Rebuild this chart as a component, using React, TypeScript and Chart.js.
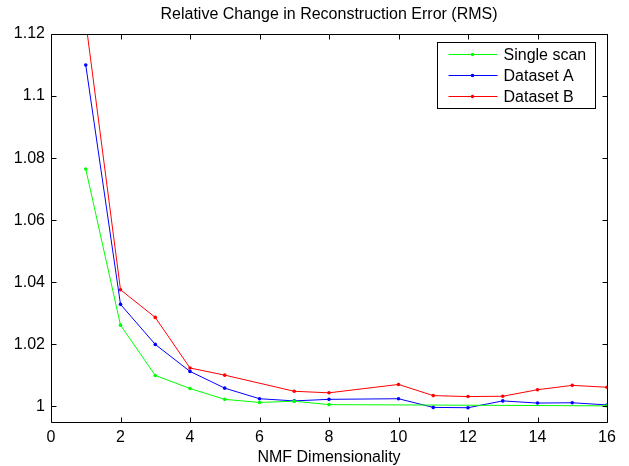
import React, { useEffect, useRef } from "react";
import { Chart, registerables } from "chart.js";

Chart.register(...registerables);

const titleText = "Relative Change in Reconstruction Error (RMS)";
const xLabel = "NMF Dimensionality";

const singleX = [1, 2, 3, 4, 5, 6, 7, 8, 16];
const singleY = [1.0765, 1.0262, 1.01, 1.0058, 1.0023, 1.0013, 1.0017, 1.0006, 1.0002];

const aX = [1, 2, 3, 4, 5, 6, 7, 8, 10, 11, 12, 13, 14, 15, 16];
const aY = [1.11, 1.0329, 1.02, 1.0113, 1.0059, 1.0025, 1.0018, 1.0023, 1.0025, 0.9997, 0.9996, 1.0018, 1.0011, 1.0012, 1.0005];

const bX = [1, 2, 3, 4, 5, 7, 8, 10, 11, 12, 13, 14, 15, 16];
const bY = [1.124, 1.0376, 1.0287, 1.0124, 1.0101, 1.0049, 1.0044, 1.0071, 1.0035, 1.0032, 1.0033, 1.0054, 1.0068, 1.0062];

const seriesNames = ["Single scan", "Dataset A", "Dataset B"];
const seriesColors = ["#00ff00", "#0000ff", "#ff0000"];

const xTicks = [0, 2, 4, 6, 8, 10, 12, 14, 16];
const yTicks = [1, 1.02, 1.04, 1.06, 1.08, 1.1, 1.12];

const FONT = '"Liberation Sans", Arial, Helvetica, sans-serif';
const FS = 16;

const toPts = (xs: number[], ys: number[]) => xs.map((x, i) => ({ x, y: ys[i] }));

const framePlugin = {
  id: "matlabFrame",
  afterDraw(chart: any) {
    const ctx = chart.ctx;
    const ca = chart.chartArea;
    const xs = chart.scales.x;
    const ys = chart.scales.y;
    const L = Math.round(ca.left) + 0.5;
    const R = Math.round(ca.right) + 0.5;
    const T = Math.round(ca.top) + 0.5;
    const B = Math.round(ca.bottom) + 0.5;
    ctx.save();
    ctx.strokeStyle = "#000";
    ctx.lineWidth = 1;
    ctx.beginPath();
    ctx.rect(L, T, R - L, B - T);
    ctx.stroke();
    const tl = 5;
    ctx.beginPath();
    xTicks.forEach((v) => {
      const px = Math.round(xs.getPixelForValue(v)) + 0.5;
      ctx.moveTo(px, B);
      ctx.lineTo(px, B - tl);
      ctx.moveTo(px, T);
      ctx.lineTo(px, T + tl);
    });
    yTicks.forEach((v) => {
      const py = Math.round(ys.getPixelForValue(v)) + 0.5;
      ctx.moveTo(L, py);
      ctx.lineTo(L + tl, py);
      ctx.moveTo(R, py);
      ctx.lineTo(R - tl, py);
    });
    ctx.stroke();

    // title & x label
    ctx.fillStyle = "#000";
    ctx.font = `${FS}px ${FONT}`;
    ctx.textAlign = "center";
    ctx.textBaseline = "alphabetic";
    const cx = (ca.left + ca.right) / 2;
    ctx.fillText(titleText, cx, ca.top - 15);
    ctx.fillText(xLabel, cx, ca.bottom + 40);

    // legend
    const texts = chart.data.datasets.map((d: any) => d.label);
    const maxW = Math.max(...texts.map((t: string) => ctx.measureText(t).width));
    const boxR = Math.round(ca.right) - 12 + 0.5;
    const boxW = Math.round(66 + maxW + 9);
    const boxL = boxR - boxW;
    const boxT = Math.round(ca.top) + 8 + 0.5;
    const rowH = 21;
    const boxH = 66;
    ctx.fillStyle = "#fff";
    ctx.fillRect(boxL, boxT, boxW, boxH);
    ctx.strokeStyle = "#000";
    ctx.strokeRect(boxL, boxT, boxW, boxH);
    chart.data.datasets.forEach((d: any, i: number) => {
      const y = boxT + 12 + i * rowH;
      ctx.strokeStyle = d.borderColor;
      ctx.lineWidth = 1;
      ctx.beginPath();
      ctx.moveTo(boxL + 11, y);
      ctx.lineTo(boxL + 60, y);
      ctx.stroke();
      ctx.fillStyle = d.borderColor;
      ctx.beginPath();
      ctx.arc(boxL + 35, y, 1.8, 0, Math.PI * 2);
      ctx.fill();
      ctx.fillStyle = "#000";
      ctx.textAlign = "left";
      ctx.textBaseline = "middle";
      ctx.fillText(d.label, boxL + 66, y + 1);
    });
    ctx.restore();
  },
};

export default function App() {
  const ref = useRef<HTMLCanvasElement | null>(null);
  useEffect(() => {
    document.body.style.margin = "0";
    document.body.style.background = "#fff";
    const mk = (xs: number[], ys: number[], i: number) => ({
      label: seriesNames[i],
      data: toPts(xs, ys),
      borderColor: seriesColors[i],
      backgroundColor: seriesColors[i],
      borderWidth: 1,
      pointRadius: 1.8,
      pointBorderWidth: 0,
      pointBackgroundColor: seriesColors[i],
      pointHoverRadius: 0,
      tension: 0,
      fill: false,
    });
    const chart = new Chart(ref.current as HTMLCanvasElement, {
      type: "line",
      data: {
        datasets: [mk(singleX, singleY, 0), mk(aX, aY, 1), mk(bX, bY, 2)],
      },
      options: {
        animation: false,
        responsive: false,
        devicePixelRatio: 1,
        layout: { padding: { left: 0, right: 22, top: 34, bottom: 0 } },
        plugins: {
          legend: { display: false },
          title: { display: false },
          tooltip: { enabled: false },
        },
        scales: {
          x: {
            type: "linear",
            min: 0,
            max: 16,
            grid: { display: false, drawTicks: false },
            border: { display: false },
            afterFit: (s: any) => {
              s.height = 44;
            },
            afterBuildTicks: (s: any) => {
              s.ticks = xTicks.map((v) => ({ value: v }));
            },
            ticks: {
              color: "#000",
              font: { family: FONT, size: FS },
              padding: 6,
              maxRotation: 0,
              autoSkip: false,
              callback: (v: any) => String(v),
            },
          },
          y: {
            type: "linear",
            min: 0.995,
            max: 1.12,
            grid: { display: false, drawTicks: false },
            border: { display: false },
            afterFit: (s: any) => {
              s.width = 51;
            },
            afterBuildTicks: (s: any) => {
              s.ticks = yTicks.map((v) => ({ value: v }));
            },
            ticks: {
              color: "#000",
              font: { family: FONT, size: FS },
              padding: 6,
              autoSkip: false,
              callback: (v: any) => String(+Number(v).toFixed(2)),
            },
          },
        },
      },
      plugins: [framePlugin],
    });
    return () => chart.destroy();
  }, []);
  return (
    <div style={{ width: 629, height: 466 }}>
      <canvas ref={ref} width={629} height={466} style={{ display: "block" }} />
    </div>
  );
}
